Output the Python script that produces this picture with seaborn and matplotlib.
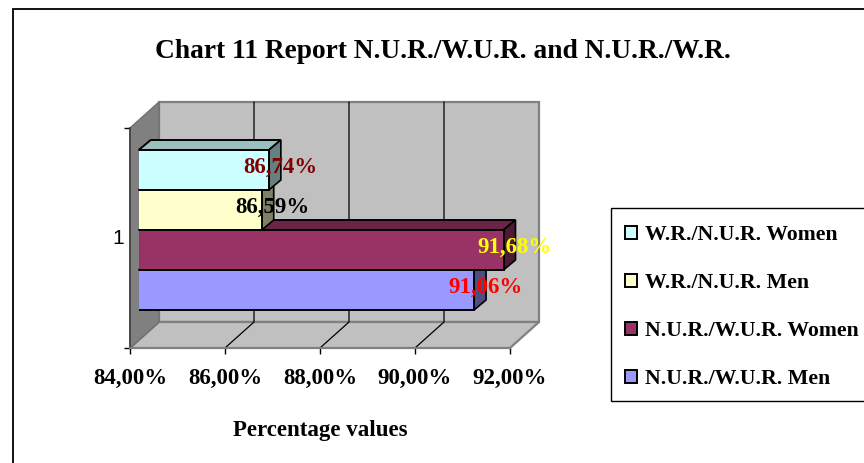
import matplotlib
matplotlib.use('Agg')
import matplotlib.pyplot as plt
from matplotlib.colors import to_rgb
from matplotlib.patches import Polygon, Rectangle
import pandas as pd
import seaborn as sns

SERIES = ['W.R./N.U.R. Women', 'W.R./N.U.R. Men', 'N.U.R./W.U.R. Women', 'N.U.R./W.U.R. Men']
VALUES = [86.74, 86.59, 91.68, 91.06]
VALUE_LABELS = ['86,74%', '86,59%', '91,68%', '91,06%']
LABEL_COLORS = ['#800000', '#000000', '#FFFF00', '#FF0000']
BAR_COLORS = ['#CCFFFF', '#FFFFCC', '#993366', '#9999FF']
CATEGORY = ['1']
X_TICKS = [84, 86, 88, 90, 92]
X_TICK_LABELS = ['84,00%', '86,00%', '88,00%', '90,00%', '92,00%']
TITLE = 'Chart 11 Report N.U.R./W.U.R. and N.U.R./W.R.'
X_LABEL = 'Percentage values'

W, H = 864, 463
DPI = 100

SERIF = 'Liberation Serif'


def px_axes(fig, left, top, right, bottom):
    # axes from pixel box, y measured from top of image
    return fig.add_axes([left / W, 1 - bottom / H, (right - left) / W, (bottom - top) / H])


def shade(color, f):
    r, g, b = to_rgb(color)
    return (r * f, g * f, b * f)


sns.set_theme(style='white')
plt.rcParams['font.family'] = [SERIF, 'DejaVu Sans']
plt.rcParams['text.color'] = 'black'
plt.rcParams['axes.labelcolor'] = 'black'

df = pd.DataFrame({'series': SERIES, 'value': VALUES, 'cat': CATEGORY * len(SERIES)})

fig = plt.figure(figsize=(W / DPI, H / DPI), dpi=DPI, facecolor='white')

# background in pixel coords: chart border, legend box, walls and floor
bg = fig.add_axes([0, 0, 1, 1])
bg.set_xlim(0, W)
bg.set_ylim(H, 0)
bg.axis('off')
bg.add_patch(Rectangle((12.5, 9), W, H, fc='white', ec='black', lw=1.3))
bg.add_patch(Rectangle((610.5, 207.5), W, 193, fc='white', ec='black', lw=1))

FX0, FX1, FY0, FY1 = 130, 510, 128, 348   # front plane
DX, DY = 29, -26                          # depth of the box
WALL = '#C0C0C0'
WALL_EDGE = '#808080'
bg.add_patch(Polygon([(FX0 + DX, FY0 + DY), (FX1 + DX, FY0 + DY), (FX1 + DX, FY1 + DY), (FX0 + DX, FY1 + DY)],
                     fc=WALL, ec=WALL_EDGE, lw=1.6))
bg.add_patch(Polygon([(FX0, FY1), (FX1, FY1), (FX1 + DX, FY1 + DY), (FX0 + DX, FY1 + DY)],
                     fc=WALL, ec=WALL_EDGE, lw=1.6))
bg.add_patch(Polygon([(FX0, FY0), (FX0 + DX, FY0 + DY), (FX0 + DX, FY1 + DY), (FX0, FY1)],
                     fc='#808080', ec='#707070', lw=1))
px_per_unit = (FX1 - FX0) / (X_TICKS[-1] - X_TICKS[0])
for t in X_TICKS[1:-1]:
    x = FX0 + (t - X_TICKS[0]) * px_per_unit
    bg.plot([x, x + DX, x + DX], [FY1, FY1 + DY, FY0 + DY], color='black', lw=0.9)

# front plane axes, only for the ticks and labels
front = px_axes(fig, FX0, FY0, FX1, FY1)
front.patch.set_alpha(0)
front.set_xlim(X_TICKS[0], X_TICKS[-1])
front.set_ylim(0, 1)
front.set_xticks(X_TICKS)
front.set_xticklabels(X_TICK_LABELS, fontsize=16.5, fontweight='bold', family=SERIF, color='black')
front.set_yticks([0, 1])
front.set_yticklabels(['', ''])
front.tick_params(axis='both', length=4, width=1, color='black', left=True, bottom=True, pad=10.5)
for s in ['top', 'right']:
    front.spines[s].set_visible(False)
front.spines['left'].set_color('#404040')
front.spines['bottom'].set_color(WALL_EDGE)
front.spines['bottom'].set_linewidth(1.4)
front.set_xlabel(X_LABEL, fontsize=16.5, fontweight='bold', family=SERIF, labelpad=22)
bg.text(118, 238, CATEGORY[0], fontsize=15, family='Liberation Sans', ha='center', va='center')

# bars live on a plane pushed slightly into the box
BX, BY = 8.7, -8
BAR_DX, BAR_DY = 12, -10
ax = px_axes(fig, FX0 + BX, FY0 + BY, FX1 + BX, FY1 + BY)
ax.patch.set_alpha(0)
sns.barplot(data=df, x='value', y='cat', hue='series', hue_order=SERIES, palette=BAR_COLORS,
            orient='h', width=160 / (FY1 - FY0), saturation=1, edgecolor='black', linewidth=1.4,
            legend=True, ax=ax, zorder=5)
ax.set_xlim(X_TICKS[0], X_TICKS[-1])
ax.set_ylim(0.5, -0.5)
ax.set_xticks([])
ax.set_yticks([])
ax.set_xlabel('')
ax.set_ylabel('')
for s in ax.spines.values():
    s.set_visible(False)

# 3d faces of each bar, bottom bar first so upper ones cover it
ux = BAR_DX / px_per_unit
uy = BAR_DY / (FY1 - FY0)
bars = [p for p in ax.patches if p.get_height() > 0 and p.get_width() > 1][:len(SERIES)]
for i in range(len(SERIES) - 1, -1, -1):
    p = bars[i]
    x1 = p.get_width()
    x0 = X_TICKS[0]
    yt = p.get_y()
    yb = yt + p.get_height()
    ax.add_patch(Polygon([(x0, yt), (x0 + ux, yt + uy), (x1 + ux, yt + uy), (x1, yt)],
                         fc=shade(BAR_COLORS[i], 0.75 if i == 0 else 0.7), ec='black', lw=1.4, zorder=2 + (3 - i) * 0.1,
                         clip_on=False))
    ax.add_patch(Polygon([(x1, yt), (x1 + ux, yt + uy), (x1 + ux, yb + uy), (x1, yb)],
                         fc=shade(BAR_COLORS[i], 0.5), ec='black', lw=1.2, zorder=2 + (3 - i) * 0.1,
                         clip_on=False))
    ax.text(x1 + 11 / px_per_unit, yt + p.get_height() / 2 - 3 / (FY1 - FY0), VALUE_LABELS[i],
            color=LABEL_COLORS[i], fontsize=16.5, fontweight='bold', family=SERIF, ha='center', va='center',
            zorder=10, clip_on=False)

sns.move_legend(ax, 'upper left', bbox_to_anchor=(610 / W, 1 - 210 / H), bbox_transform=fig.transFigure,
                title=None, frameon=False,
                prop={'family': SERIF, 'weight': 'bold', 'size': 15.7}, labelspacing=1.28,
                handlelength=0.55, handleheight=0.55, handletextpad=0.36, borderpad=0.7, borderaxespad=0)

fig.text(443 / W, 1 - 58 / H, TITLE, fontsize=19.7, fontweight='bold', family=SERIF, ha='center', va='baseline',
         color='black')

fig.savefig('out.png', dpi=DPI)
